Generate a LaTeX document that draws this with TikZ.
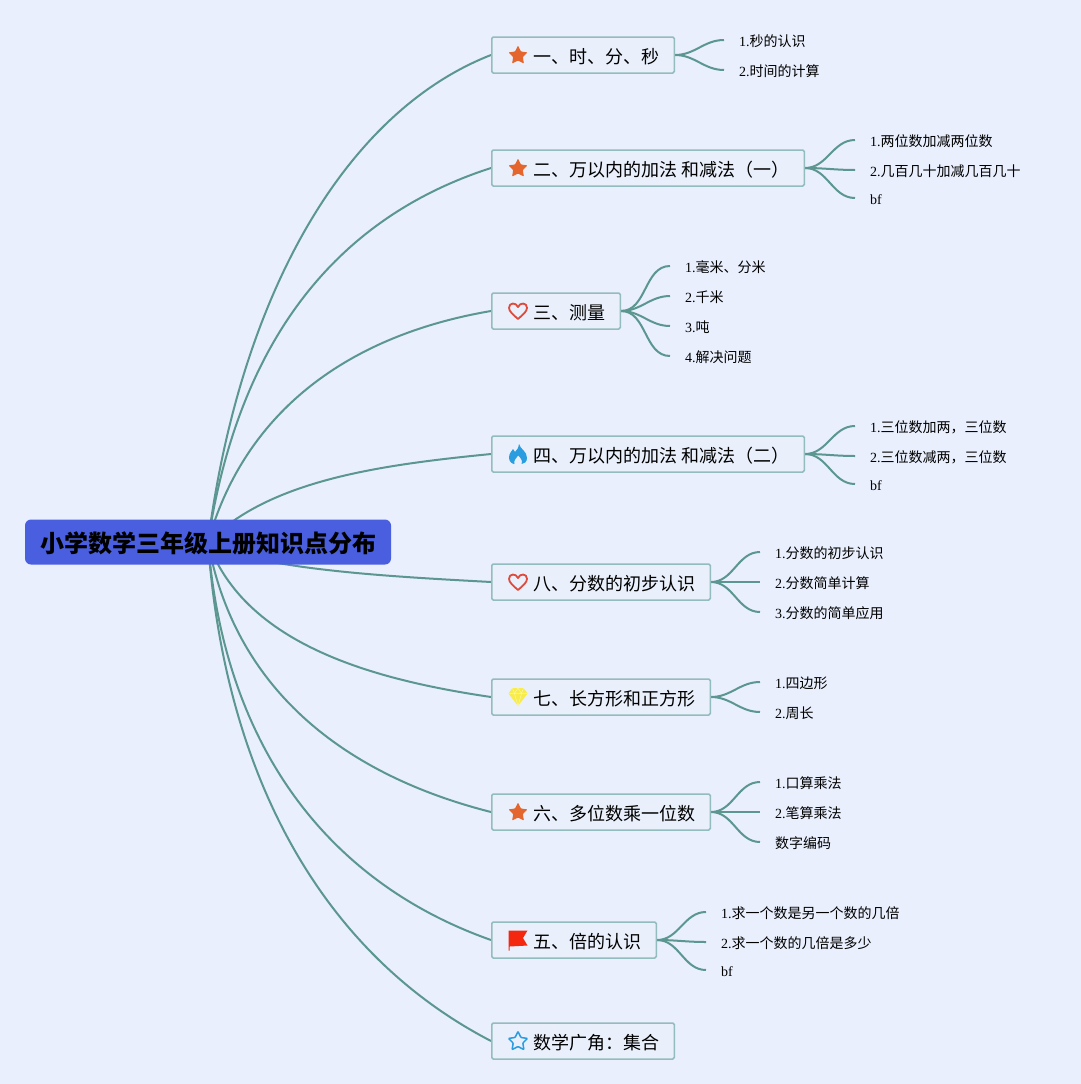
\documentclass[tikz,border=0pt]{standalone}
\usepackage{fontspec}
\setmainfont{Liberation Serif}
\newfontfamily\cjk{Noto Sans CJK SC}
\usetikzlibrary{backgrounds}
\definecolor{pagebg}{HTML}{E9EFFD}
\definecolor{rootblue}{HTML}{4A5FE0}
\definecolor{linegreen}{HTML}{5B9690}
\definecolor{boxedge}{HTML}{93BCBE}
\definecolor{boxfill}{HTML}{E9F0FB}
\definecolor{starorange}{HTML}{E5652F}
\definecolor{heartred}{HTML}{DE4A3C}
\definecolor{iconblue}{HTML}{2A9DE0}
\definecolor{gemyellow}{HTML}{F7EC4A}
\definecolor{gemline}{HTML}{FBF6A8}
\definecolor{flagred}{HTML}{F3280F}
\tikzset{
  rootnode/.style={fill=rootblue,rounded corners=6pt,inner xsep=15pt,inner ysep=0pt,minimum height=45pt,
    text height=24pt,text depth=3pt,font=\cjk\bfseries\fontsize{24}{28}\selectfont},
  branch/.style={draw=boxedge,fill=boxfill,line width=1.5pt,rounded corners=1.5pt,anchor=west,
    inner xsep=14.5pt,inner ysep=0pt,minimum height=36pt,text height=19pt,text depth=3pt,
    font=\cjk\fontsize{18}{22}\selectfont},
  leaf/.style={anchor=west,inner xsep=15pt,inner ysep=0pt,text height=16pt,text depth=3pt,
    font=\fontsize{14}{16}\selectfont},
  limb/.style={draw=linegreen,line width=2pt},
  twig/.style={draw=linegreen,line width=2pt},
  iconstar/.pic={
    \path[rounded corners=0.8pt,pic actions] (0,-10) -- (2.9,-4) -- (9.5,-3.1) -- (4.8,1.5) -- (5.9,8.1)
      -- (0,5) -- (-5.9,8.1) -- (-4.8,1.5) -- (-9.5,-3.1) -- (-2.9,-4) -- cycle;
  },
  iconheart/.pic={
    \draw[heartred,line width=1.8pt,line join=round] (0,8) .. controls (-5,3.5) and (-9,0.5) .. (-9,-3.2)
      .. controls (-9,-8.5) and (-2,-9) .. (0,-4) .. controls (2,-9) and (9,-8.5) .. (9,-3.2)
      .. controls (9,0.5) and (5,3.5) .. (0,8) -- cycle;
  },
  iconflame/.pic={
    \fill[iconblue] (1,-10) .. controls (2,-5) and (9,-3) .. (9,4) .. controls (9,8) and (6,10) .. (3.5,10)
      .. controls (5,7) and (3,4) .. (0,1.5) .. controls (-1,4) and (-5,6) .. (-3.5,10)
      .. controls (-6,10) and (-9,7.5) .. (-9,3.5) .. controls (-9,-1) and (-6,-3) .. (-5,-5)
      .. controls (-4,-3) and (-3.5,-3) .. (-3,-2) .. controls (-1,-4) and (0.5,-6) .. (1,-10) -- cycle;
  },
  icongem/.pic={
    \fill[gemyellow] (-5.5,-8) -- (5.5,-8) -- (9.5,-2.5) -- (0,10) -- (-9.5,-2.5) -- cycle;
    \draw[gemline,line width=0.5pt] (-9.5,-2.5) -- (9.5,-2.5) (-3.5,-2.5) -- (0,10) -- (3.5,-2.5)
      (-5.5,-8) -- (-3.5,-2.5) -- (0,-8) -- (3.5,-2.5) -- (5.5,-8);
  },
  iconflag/.pic={
    \fill[flagred] (-9.3,-9.5) -- (9.5,-9.5) -- (5,-2) -- (9.5,5.5) -- (-8.3,6.5) -- (-8.3,10.5) -- (-9.3,10.5) -- cycle;
  },
}
\begin{document}
\begin{tikzpicture}[x=1pt,y=-1pt]
  \useasboundingbox (0,0) rectangle (1081,1084);
  % boxes
  \node[rootnode] (root) at (208,542) {小学数学三年级上册知识点分布};
  \node[branch] (b1) at (491,55) {\hspace*{27.5pt}一、时、分、秒};
  \node[branch] (b2) at (491,168) {\hspace*{27.5pt}二、万以内的加法 和减法（一）};
  \node[branch] (b3) at (491,311) {\hspace*{27.5pt}三、测量};
  \node[branch] (b4) at (491,454) {\hspace*{27.5pt}四、万以内的加法 和减法（二）};
  \node[branch] (b8) at (491,582) {\hspace*{27.5pt}八、分数的初步认识};
  \node[branch] (b7) at (491,697) {\hspace*{27.5pt}七、长方形和正方形};
  \node[branch] (b6) at (491,812) {\hspace*{27.5pt}六、多位数乘一位数};
  \node[branch] (b5) at (491,940) {\hspace*{27.5pt}五、倍的认识};
  \node[branch] (b9) at (491,1041) {\hspace*{27.5pt}数学广角：集合};
  % icons
  \pic[fill=starorange] at (518,55.5) {iconstar};
  \pic[fill=starorange] at (518,168.5) {iconstar};
  \pic at (518,311) {iconheart};
  \pic at (518,454) {iconflame};
  \pic at (518,582) {iconheart};
  \pic at (518,696) {icongem};
  \pic[fill=starorange] at (518,812.5) {iconstar};
  \pic at (518,940) {iconflag};
  \pic[draw=iconblue,line width=1.5pt] at (518,1041.5) {iconstar};
  % leaves
  \node[leaf] (l11) at (724,40) {1.{\cjk 秒的认识}};
  \node[leaf] (l12) at (724,70) {2.{\cjk 时间的计算}};
  \node[leaf] (l21) at (855,140) {1.{\cjk 两位数加减两位数}};
  \node[leaf] (l22) at (855,170) {2.{\cjk 几百几十加减几百几十}};
  \node[leaf] (l23) at (855,198) {bf};
  \node[leaf] (l31) at (670,266) {1.{\cjk 毫米、分米}};
  \node[leaf] (l32) at (670,296) {2.{\cjk 千米}};
  \node[leaf] (l33) at (670,326) {3.{\cjk 吨}};
  \node[leaf] (l34) at (670,356) {4.{\cjk 解决问题}};
  \node[leaf] (l41) at (855,426) {1.{\cjk 三位数加两，三位数}};
  \node[leaf] (l42) at (855,456) {2.{\cjk 三位数减两，三位数}};
  \node[leaf] (l43) at (855,484) {bf};
  \node[leaf] (l81) at (760,552) {1.{\cjk 分数的初步认识}};
  \node[leaf] (l82) at (760,582) {2.{\cjk 分数简单计算}};
  \node[leaf] (l83) at (760,612) {3.{\cjk 分数的简单应用}};
  \node[leaf] (l71) at (760,682) {1.{\cjk 四边形}};
  \node[leaf] (l72) at (760,712) {2.{\cjk 周长}};
  \node[leaf] (l61) at (760,782) {1.{\cjk 口算乘法}};
  \node[leaf] (l62) at (760,812) {2.{\cjk 笔算乘法}};
  \node[leaf] (l63) at (760,842) {{\cjk 数字编码}};
  \node[leaf] (l51) at (706,912) {1.{\cjk 求一个数是另一个数的几倍}};
  \node[leaf] (l52) at (706,942) {2.{\cjk 求一个数的几倍是多少}};
  \node[leaf] (l53) at (706,970) {bf};
  \begin{scope}[on background layer]
    \fill[pagebg] (0,0) rectangle (1081,1084);
    % limbs from the root
    \draw[limb] (root.center) .. controls (240,295) and (345,112) .. (b1.west);
    \draw[limb] (root.center) .. controls (240,330) and (345,215) .. (b2.west);
    \draw[limb] (root.center) .. controls (245,410) and (350,335) .. (b3.west);
    \draw[limb] (root.center) .. controls (270,480) and (380,465) .. (b4.west);
    \draw[limb] (root.center) .. controls (255,570) and (400,577) .. (b8.west);
    \draw[limb] (root.center) .. controls (245,645) and (375,680) .. (b7.west);
    \draw[limb] (root.center) .. controls (235,690) and (345,775) .. (b6.west);
    \draw[limb] (root.center) .. controls (225,755) and (335,885) .. (b5.west);
    \draw[limb] (root.center) .. controls (225,780) and (325,955) .. (b9.west);
    % twigs to the leaves
    \draw[twig] (b1.east) to[out=0,in=180] (l11.west);
    \draw[twig] (b1.east) to[out=0,in=180] (l12.west);
    \draw[twig] (b2.east) to[out=0,in=180] (l21.west);
    \draw[twig] (b2.east) to[out=0,in=180] (l22.west);
    \draw[twig] (b2.east) to[out=0,in=180] (l23.west);
    \draw[twig] (b3.east) to[out=0,in=180] (l31.west);
    \draw[twig] (b3.east) to[out=0,in=180] (l32.west);
    \draw[twig] (b3.east) to[out=0,in=180] (l33.west);
    \draw[twig] (b3.east) to[out=0,in=180] (l34.west);
    \draw[twig] (b4.east) to[out=0,in=180] (l41.west);
    \draw[twig] (b4.east) to[out=0,in=180] (l42.west);
    \draw[twig] (b4.east) to[out=0,in=180] (l43.west);
    \draw[twig] (b8.east) to[out=0,in=180] (l81.west);
    \draw[twig] (b8.east) to[out=0,in=180] (l82.west);
    \draw[twig] (b8.east) to[out=0,in=180] (l83.west);
    \draw[twig] (b7.east) to[out=0,in=180] (l71.west);
    \draw[twig] (b7.east) to[out=0,in=180] (l72.west);
    \draw[twig] (b6.east) to[out=0,in=180] (l61.west);
    \draw[twig] (b6.east) to[out=0,in=180] (l62.west);
    \draw[twig] (b6.east) to[out=0,in=180] (l63.west);
    \draw[twig] (b5.east) to[out=0,in=180] (l51.west);
    \draw[twig] (b5.east) to[out=0,in=180] (l52.west);
    \draw[twig] (b5.east) to[out=0,in=180] (l53.west);
  \end{scope}
\end{tikzpicture}
\end{document}
